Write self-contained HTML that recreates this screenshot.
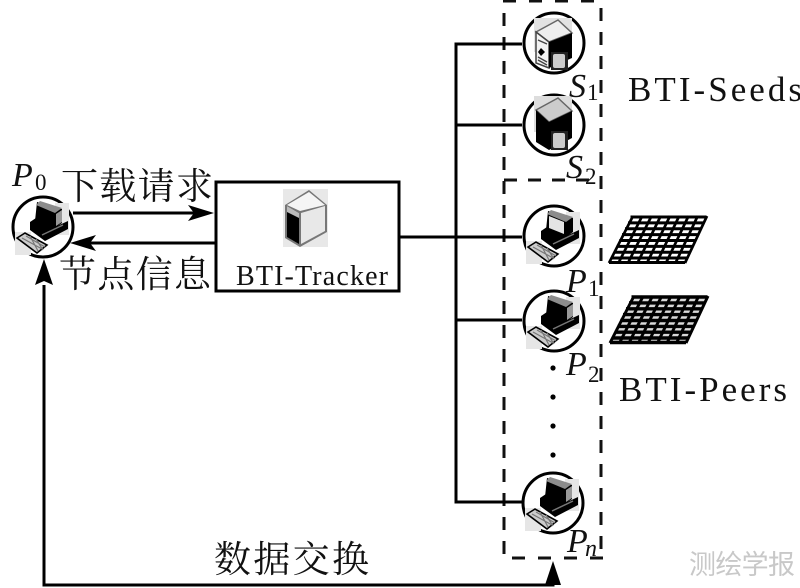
<!DOCTYPE html>
<html><head><meta charset="utf-8"><style>
html,body{margin:0;padding:0;background:#fff}
svg{display:block}
text{fill:#111}
.s{font-family:"Liberation Serif","Noto Serif CJK SC",serif}
.c{font-family:"Noto Serif CJK SC","Liberation Serif",serif}
.i{font-family:"Liberation Serif",serif;font-style:italic;font-size:34px}
.n{font-family:"Liberation Serif",serif;font-size:23px}
</style></head><body>
<svg width="800" height="588" viewBox="0 0 800 588" xmlns="http://www.w3.org/2000/svg">
<defs>
<g id="pcb">
<rect x="-28" y="5" width="16" height="23" fill="#e6e6e6"/>
<rect x="12" y="-24" width="14" height="32" fill="#e6e6e6"/>
<path d="M-13,-5 L-7,-9 L12,0 L25,-6 L25,2 L2,14 L-13,3Z" fill="#000"/>
<path d="M-1,8 L20,-2" stroke="#777" stroke-width="1.5"/>
<path d="M-26,11 L-18,6 L4,18 L-6,26Z" fill="#ccc" stroke="#000" stroke-width="1.6"/>
<path d="M-21,11 L-1,22 M-17,9 L2,20 M-13,9 L-5,24 M-7,12 L0,23" stroke="#777" stroke-width="1.2" fill="none"/>
</g>
<g id="pc">
<use href="#pcb"/>
<path d="M-6,-25 L19,-18 L19,-4 L12,1 L-8,-6Z" fill="#000"/>
<path d="M-3,-26 L19,-19 L12,-14 L-7,-22Z" fill="#8c8c8c"/>
<path d="M13,-13 L19,-17 L19,-5 L13,-1Z" fill="#999"/>
</g>
<g id="pcw">
<use href="#pcb"/>
<path d="M-6,-25 L19,-18 L19,-4 L12,1 L-8,-6Z" fill="#000"/>
<path d="M-3,-26 L19,-19 L12,-14 L-7,-22Z" fill="#8c8c8c"/>
<path d="M-5,-20 L10,-14 L10,-2 L-5,-8Z" fill="#e4e4e4"/>
</g>
<g id="gridlines" fill="none" stroke="#000">
<path d="M24,0 L98,0 L76,47 L0,47Z" fill="#fff" stroke="none"/>
<path d="M21.5,1 H97.5 M19,6.9 H95 M16,12.8 H92 M13,18.6 H89 M10.3,24.5 H86 M7.5,30.4 H83 M4.8,36.2 H81 M2,42 H78.5 M0,46.5 H76" stroke-width="3"/>
<path d="M24,0 L0,47 M33.2,0 L9.5,47 M42.5,0 L19,47 M51.7,0 L28.5,47 M61,0 L38,47 M70.2,0 L47.5,47 M79.5,0 L57,47 M88.7,0 L66.5,47 M98,0 L76,47" stroke-width="2.7"/>
</g>
<g id="gridlines2" fill="none" stroke="#000">
<path d="M24,0 L98,0 L76,47 L0,47Z" fill="#d8d8d8" stroke="none"/>
<path d="M21.5,1 H97.5 M19,6.9 H95 M16,12.8 H92 M13,18.6 H89 M10.3,24.5 H86 M7.5,30.4 H83 M4.8,36.2 H81 M2,42 H78.5 M0,46.5 H76" stroke-width="3.4"/>
<path d="M24,0 L0,47 M33.2,0 L9.5,47 M42.5,0 L19,47 M51.7,0 L28.5,47 M61,0 L38,47 M70.2,0 L47.5,47 M79.5,0 L57,47 M88.7,0 L66.5,47 M98,0 L76,47" stroke-width="3"/>
</g>
</defs>

<!-- dashed region -->
<g stroke="#111" stroke-width="3" fill="none">
<path d="M504,13 L504,558" stroke-dasharray="13 11"/>
<path d="M503,1 L601,1" stroke-dasharray="13 13"/>
<path d="M601,8 L601,558" stroke-dasharray="13 11"/>
<path d="M512,558 L604,558" stroke-dasharray="13 13"/>
<path d="M504,180 L601,180" stroke-dasharray="13 11"/>
</g>

<!-- connectors -->
<g stroke="#000" stroke-width="3" fill="none">
<path d="M522,44 H456 V502 H522"/>
<path d="M456,125 H522"/>
<path d="M400,237 H522"/>
<path d="M456,320 H522"/>
<rect x="216" y="182" width="183" height="109"/>
<path d="M73,213 H205"/>
<path d="M84,243 H216"/>
<path d="M44,285 V585 H553 V572"/>
</g>
<path d="M214,213 L188,205 L194,213 L188,221Z" fill="#000"/>
<path d="M70,243 L96,235 L90,243 L96,251Z" fill="#000"/>
<path d="M44,259 L35,285 L44,281 L53,285Z" fill="#000"/>
<path d="M553,561 L545,585 L561,585Z" fill="#000"/>

<!-- S1 -->
<circle cx="554" cy="43" r="30" fill="#fff" stroke="#000" stroke-width="3"/>
<rect x="534" y="18" width="38" height="34" fill="#e2e2e2"/>
<path d="M536,32 L558,20 L572,33 L549,42Z" fill="#eee" stroke="#666" stroke-width="1.5"/>
<path d="M536,32 L549,42 L549,68 L536,63Z" fill="#f3f3f3" stroke="#444" stroke-width="1.5"/>
<path d="M549,42 L572,33 L572,58 L549,68Z" fill="#000"/>
<path d="M541,48 L545,52 L541,56 L538,52Z" fill="#000"/>
<path d="M538,40 L547,44 M538,57 L547,62 M538,60 L547,65" stroke="#444" stroke-width="1.3"/>
<rect x="551" y="52" width="17" height="18" fill="#222"/>
<rect x="553" y="54" width="12" height="14" rx="2" fill="#ccc"/>
<!-- S2 -->
<circle cx="554" cy="125" r="30" fill="#fff" stroke="#000" stroke-width="3"/>
<rect x="534" y="96" width="38" height="36" fill="#ddd"/>
<path d="M536,110 L558,98 L572,111 L549,122Z" fill="#ccc" stroke="#666" stroke-width="1.5"/>
<path d="M536,110 L549,122 L549,150 L536,142Z" fill="#000"/>
<path d="M549,122 L572,111 L572,138 L549,150Z" fill="#000"/>
<rect x="551" y="131" width="17" height="19" fill="#222"/>
<rect x="553" y="133" width="12" height="15" rx="2" fill="#ccc"/>

<!-- PCs -->
<circle cx="554" cy="236" r="30" fill="#fff" stroke="#000" stroke-width="3"/>
<use href="#pcw" x="554" y="236"/>
<circle cx="554" cy="321" r="30" fill="#fff" stroke="#000" stroke-width="3"/>
<use href="#pc" x="554" y="321"/>
<circle cx="553" cy="503" r="30" fill="#fff" stroke="#000" stroke-width="3"/>
<use href="#pc" x="553" y="503"/>
<circle cx="43" cy="227" r="30" fill="#fff" stroke="#000" stroke-width="3"/>
<use href="#pc" x="43" y="227"/>

<!-- tracker server -->
<rect x="283" y="189" width="45" height="58" fill="#e8e8e8"/>
<path d="M285,205 L309,190 L327,205 L327,232 L300,247 L285,238Z" fill="#777"/>
<path d="M287,205 L309,192 L325,205 L300,211Z" fill="#f5f5f5"/>
<path d="M287,206 L299,213 L299,244 L287,237Z" fill="#000"/>
<path d="M287,206 L299,213 L299,218 L287,212Z" fill="#bbb"/>
<path d="M301,213 L325,206 L325,231 L301,244Z" fill="#e8e8e8"/>

<!-- grids -->
<use href="#gridlines" x="609" y="216"/>
<use href="#gridlines2" x="610" y="296"/>

<!-- dots -->
<circle cx="553" cy="368" r="2.6" fill="#000"/>
<circle cx="553" cy="397" r="2.6" fill="#000"/>
<circle cx="553" cy="426" r="2.6" fill="#000"/>
<circle cx="553" cy="455" r="2.6" fill="#000"/>

<!-- labels -->
<text class="s" x="236" y="285" font-size="28" textLength="152">BTI-Tracker</text>
<text class="s" x="628" y="101" font-size="35" textLength="174">BTI-Seeds</text>
<text class="s" x="619" y="401" font-size="35" textLength="168">BTI-Peers</text>
<text class="c" x="61" y="199" font-size="37" textLength="152">下载请求</text>
<text class="c" x="59" y="287" font-size="37" textLength="152">节点信息</text>
<text class="c" x="214" y="572" font-size="37" textLength="155">数据交换</text>
<text x="689" y="574" font-size="27" style="font-family:'Noto Sans CJK SC',sans-serif;fill:#c8c8c8" textLength="106">测绘学报</text>

<text class="i" x="12" y="186">P</text><text class="n" x="35" y="190">0</text>
<text class="i" x="569" y="97">S</text><text class="n" x="587" y="100">1</text>
<text class="i" x="566" y="178">S</text><text class="n" x="585" y="184">2</text>
<text class="i" x="566" y="292">P</text><text class="n" x="588" y="296">1</text>
<text class="i" x="566" y="375">P</text><text class="n" x="588" y="382">2</text>
<text class="i" x="567" y="552">P</text><text class="i" x="585" y="556" style="font-size:24px">n</text>
</svg>
</body></html>
